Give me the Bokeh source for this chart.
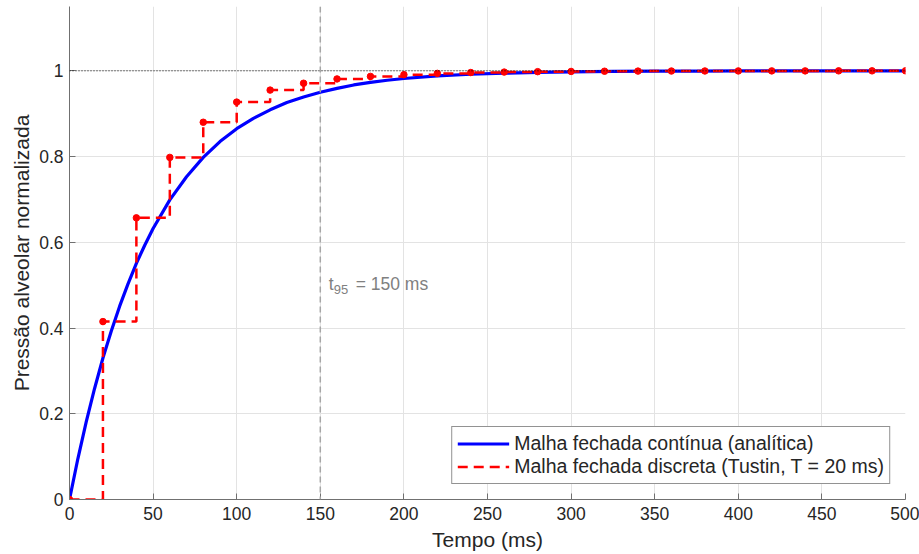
from bokeh.plotting import figure
from bokeh.models import (Range1d, FixedTicker, CustomJSTickFormatter, Span, Legend, LegendItem)
from bokeh.core.properties import value
from bokeh.embed import file_html
from bokeh.resources import INLINE

# Continuous closed-loop response
t_cont = [0, 5, 10, 15, 20, 25, 30, 35, 40, 45, 50, 60, 70, 80, 90, 100, 110, 120, 130, 140,
          150, 160, 170, 180, 190, 200, 220, 240, 260, 280, 300, 325, 350, 375, 400, 450, 500]
y_cont = [0.0, 0.095, 0.181, 0.259, 0.330, 0.393, 0.451, 0.503, 0.551, 0.593, 0.632, 0.699,
          0.753, 0.798, 0.835, 0.865, 0.889, 0.909, 0.926, 0.939, 0.950, 0.959, 0.967, 0.973,
          0.978, 0.982, 0.988, 0.992, 0.9945, 0.9963, 0.9975, 0.9985, 0.9991, 0.9994, 0.9997,
          0.9999, 1.0]

# Discrete (Tustin, T = 20 ms) samples
t_disc = [0, 20, 40, 60, 80, 100, 120, 140, 160, 180, 200, 220, 240, 260, 280, 300, 320, 340,
          360, 380, 400, 420, 440, 460, 480, 500]
y_disc = [0.0, 0.415, 0.657, 0.798, 0.880, 0.927, 0.955, 0.971, 0.981, 0.987, 0.991, 0.994,
          0.996, 0.997, 0.998, 0.9985, 0.999, 0.9993, 0.9995, 0.9996, 0.9997, 0.9998, 0.9998,
          0.9999, 0.9999, 1.0]

x_ticks = [0, 50, 100, 150, 200, 250, 300, 350, 400, 450, 500]
y_ticks = [0, 0.2, 0.4, 0.6, 0.8, 1]
t95 = 150
ref_level = 1.0

FONT = "Liberation Sans"
TXT = "#262626"
AX = "#707070"

p = figure(width=919, height=554, output_backend="svg", toolbar_location=None,
           x_range=Range1d(0, 500), y_range=Range1d(0, 1.15),
           min_border_left=69, min_border_right=14, min_border_top=6, min_border_bottom=55)
p.outline_line_color = None
p.background_fill_color = "white"
p.border_fill_color = "white"

for ax in (p.xaxis[0], p.yaxis[0]):
    ax.major_tick_in = 6
    ax.major_tick_out = 0
    ax.minor_tick_in = 0
    ax.minor_tick_out = 0
    ax.axis_line_color = AX
    ax.major_tick_line_color = AX
    ax.major_label_text_font = FONT
    ax.major_label_text_font_size = "17.5px"
    ax.major_label_text_color = TXT
    ax.axis_label_text_font = FONT
    ax.axis_label_text_font_size = "21px"
    ax.axis_label_text_font_style = "normal"
    ax.axis_label_text_color = TXT

p.xaxis.ticker = FixedTicker(ticks=x_ticks)
p.yaxis.ticker = FixedTicker(ticks=y_ticks)
p.yaxis.formatter = CustomJSTickFormatter(code="return parseFloat(tick.toFixed(2)).toString();")
p.xaxis.axis_label = "Tempo (ms)"
p.yaxis.axis_label = "Pressão alveolar normalizada"
p.xaxis.major_label_standoff = 7
p.yaxis.major_label_standoff = 6
p.xaxis.axis_label_standoff = 5
p.yaxis.axis_label_standoff = 3

p.xgrid.grid_line_color = "#e3e3e3"
p.ygrid.grid_line_color = "#e3e3e3"
p.xgrid.grid_line_width = 1
p.ygrid.grid_line_width = 1

# reference lines
p.add_layout(Span(location=ref_level, dimension="width", line_color="black",
                  line_dash="1 2", line_width=1))
p.add_layout(Span(location=t95, dimension="height", line_color="#a6a6a6",
                  line_dash="6 4", line_width=1.5))

r_cont = p.line(t_cont, y_cont, line_color="#0000ff", line_width=3.2)
r_step = p.step(t_disc, y_disc, mode="after", line_color="#ff0000", line_width=2.5,
                line_dash="10 6")
p.scatter(t_disc, y_disc, size=6.5, color="#ff0000")

# annotation t95
p.text(x=[155], y=[0.503], text=["t"], text_font=value(FONT), text_font_size="17.5px",
       text_color="#808080", text_align="left", text_baseline="middle")
p.text(x=[155], y=[0.503], text=["95"], text_font=value(FONT), text_font_size="13px",
       text_color="#808080", text_align="left", text_baseline="middle", x_offset=5, y_offset=6)
p.text(x=[155], y=[0.503], text=["= 150 ms"], text_font=value(FONT), text_font_size="17.5px",
       text_color="#808080", text_align="left", text_baseline="middle", x_offset=27)

legend = Legend(items=[LegendItem(label="Malha fechada contínua (analítica)", renderers=[r_cont]),
                       LegendItem(label="Malha fechada discreta (Tustin, T = 20 ms)", renderers=[r_step])],
                location="bottom_right")
legend.label_text_font = FONT
legend.label_text_font_size = "19.5px"
legend.label_text_color = TXT
legend.border_line_color = TXT
legend.border_line_width = 1
legend.background_fill_alpha = 1
legend.glyph_width = 52
legend.glyph_height = 21
legend.label_height = 21
legend.label_standoff = 5
legend.spacing = 0
legend.padding = 5
legend.margin = 15
p.add_layout(legend)

open("out.html", "w").write(file_html(p, INLINE))
